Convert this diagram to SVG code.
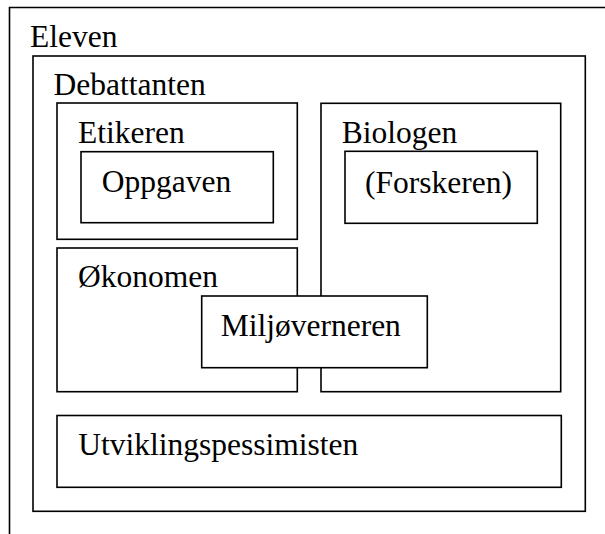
<svg xmlns="http://www.w3.org/2000/svg" width="605" height="534" viewBox="0 0 605 534">
<style>
rect.b{fill:#fff;stroke:#000;stroke-width:1.6}
path.b{fill:none;stroke:#000;stroke-width:1.6}
text{font-family:"Liberation Serif","Times New Roman",serif;font-size:31.5px;fill:#000}
</style>
<rect width="605" height="534" fill="#fff"/>
<g id="eleven">
<path class="b" d="M9.5,534 V7.5 H605"/>
<text x="30" y="46.5">Eleven</text>
</g>
<g id="debattanten">
<rect class="b" x="33" y="56" width="552.3" height="455.3"/>
<text x="53.5" y="95">Debattanten</text>
</g>
<g id="etikeren">
<rect class="b" x="57" y="103" width="240.3" height="136.3"/>
<text x="78" y="143">Etikeren</text>
</g>
<g id="oppgaven">
<rect class="b" x="81" y="151.7" width="192.3" height="71"/>
<text x="101.7" y="191.7">Oppgaven</text>
</g>
<g id="biologen">
<rect class="b" x="321" y="103.3" width="239.7" height="288.4"/>
<text x="341.7" y="143.3">Biologen</text>
</g>
<g id="forskeren">
<rect class="b" x="345" y="151.3" width="192.3" height="72"/>
<text x="365" y="193">(Forskeren)</text>
</g>
<g id="okonomen">
<rect class="b" x="57" y="248" width="240.3" height="143.7"/>
<text x="78" y="286.7">Økonomen</text>
</g>
<g id="miljoverneren">
<rect class="b" x="201.7" y="296" width="225.6" height="71.7"/>
<text x="220.7" y="336">Miljøverneren</text>
</g>
<g id="utviklingspessimisten">
<rect class="b" x="57" y="415.5" width="504.3" height="71.8"/>
<text x="78.3" y="455">Utviklingspessimisten</text>
</g>
<g id="connectors"></g>
</svg>
